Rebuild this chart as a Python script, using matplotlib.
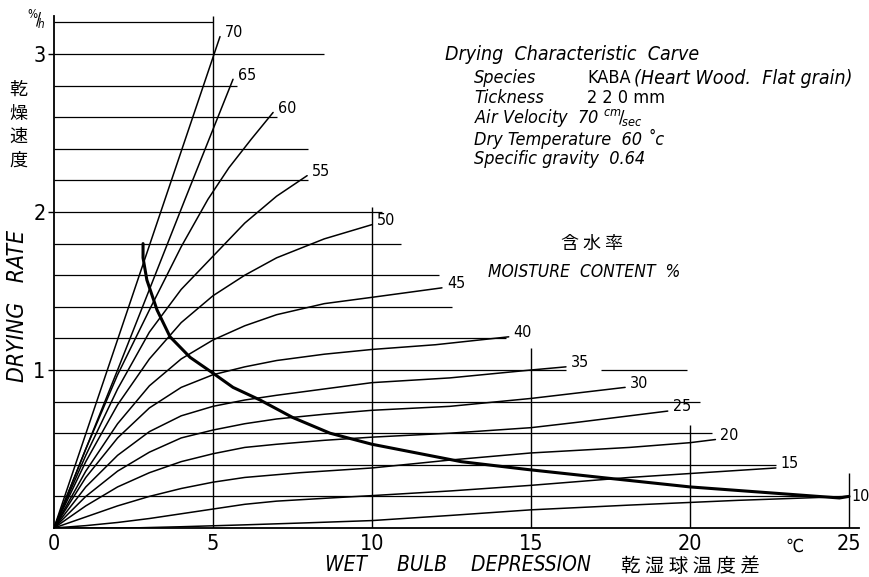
import numpy as np
import matplotlib.pyplot as plt

plt.rcParams['font.family'] = ['DejaVu Sans', 'Noto Sans CJK JP']
plt.rcParams['font.stretch'] = 'condensed'

# drying-rate curves, one per moisture content (%)
mc_labels = [70, 65, 60, 55, 50, 45, 40, 35, 30, 25, 20, 15, 10]
curve_x = [
    [0, 2.6, 5.22],
    [0, 2.0, 4.12, 5.63],
    [0, 1, 2, 3, 4, 4.84, 5.5, 6.2, 6.89],
    [0, 1, 2, 3, 4, 5, 6, 7, 7.96],
    [0, 1, 2, 3, 4, 5, 6, 7, 8.5, 10.0],
    [0, 1, 2, 3, 4, 5, 6, 7, 8.5, 10.0, 12.2],
    [0, 1, 2, 3, 4, 5, 6, 7, 8.5, 10.0, 12.0, 14.3],
    [0, 1, 2, 3, 4, 5, 6, 7, 8.5, 10.0, 12.45, 15.0, 16.1],
    [0, 1, 2, 3, 4, 5, 6, 7, 8.5, 10.0, 12.45, 15.0, 17.96],
    [0, 1, 2, 3, 4, 5, 6, 7, 8.5, 10.0, 12.45, 15.0, 16.5, 18.1, 19.3],
    [0, 1, 2, 3, 4, 5, 6, 7.74, 10.0, 12.45, 15.0, 18.1, 20.0, 20.8],
    [0, 1, 2, 3, 4, 5, 6, 7, 8.68, 10.0, 12.5, 15.0, 18.1, 22.7],
    [0, 2.4, 4, 6, 8, 10.0, 12.5, 15.0, 18.1, 21.5, 25.0],
]
curve_y = [
    [0, 1.55, 3.11],
    [0, 1.0, 2.08, 2.84],
    [0, 0.5, 0.97, 1.38, 1.78, 2.08, 2.28, 2.46, 2.63],
    [0, 0.46, 0.88, 1.24, 1.51, 1.72, 1.93, 2.10, 2.23],
    [0, 0.42, 0.78, 1.07, 1.30, 1.47, 1.60, 1.71, 1.83, 1.92],
    [0, 0.36, 0.66, 0.90, 1.07, 1.19, 1.28, 1.35, 1.42, 1.46, 1.52],
    [0, 0.32, 0.57, 0.76, 0.89, 0.97, 1.02, 1.06, 1.10, 1.13, 1.16, 1.21],
    [0, 0.26, 0.46, 0.61, 0.71, 0.77, 0.81, 0.84, 0.88, 0.92, 0.95, 1.0, 1.02],
    [0, 0.20, 0.36, 0.48, 0.57, 0.62, 0.66, 0.69, 0.72, 0.745, 0.77, 0.82, 0.89],
    [0, 0.14, 0.26, 0.35, 0.42, 0.47, 0.51, 0.53, 0.555, 0.575, 0.60, 0.635, 0.67, 0.71, 0.74],
    [0, 0.07, 0.14, 0.20, 0.25, 0.29, 0.32, 0.35, 0.38, 0.43, 0.475, 0.51, 0.54, 0.56],
    [0, 0.015, 0.035, 0.06, 0.09, 0.12, 0.15, 0.17, 0.19, 0.205, 0.235, 0.27, 0.32, 0.38],
    [0, 0.0, 0.008, 0.02, 0.033, 0.047, 0.08, 0.115, 0.145, 0.175, 0.20],
]

# critical (thick) curve
crit_x = [2.80, 2.80, 2.92, 3.24, 3.65, 4.28, 5.0, 5.63, 6.48, 7.5, 8.68, 10.0, 12.8, 14.9, 17.2, 20.0, 24.7, 25.0]
crit_y = [1.80, 1.71, 1.57, 1.38, 1.21, 1.08, 0.98, 0.89, 0.81, 0.70, 0.60, 0.53, 0.42, 0.37, 0.32, 0.26, 0.19, 0.20]

# ruled lines: horizontal (level, start, end) and vertical (x, top)
grid_y = [0.2, 0.4, 0.6, 0.8, 1.0, 1.0, 1.2, 1.4, 1.6, 1.8, 2.0, 2.2, 2.4, 2.6, 2.8, 3.0, 3.2]
grid_x0 = [0, 0, 0, 0, 0, 17.2, 0, 0, 0, 0, 0, 0, 0, 0, 0, 0, 0]
grid_x1 = [25, 22.7, 20.7, 20.3, 16.1, 19.9, 14.2, 12.5, 12.1, 10.9, 10.3, 8.0, 8.0, 7.0, 5.75, 8.5, 5.0]
vline_x = [5, 10, 15, 20, 25]
vline_top = [3.24, 2.03, 1.14, 0.65, 0.35]

x_ticks = [0, 5, 10, 15, 20, 25]
y_ticks = [1, 2, 3]

notes = [
    ('Species', 'KABA'),
    ('Tickness', '2 2 0 mm'),
]
notes_inline = ['Air Velocity  70 $^{cm}\\!/\\!_{sec}$', 'Dry Temperature  60 ˚c',
                'Specific gravity  0.64']

W, H = 869, 577
fig = plt.figure(figsize=(W / 100, H / 100), dpi=100)
ax = fig.add_axes([54 / W, 49 / H, 25.3 * 31.8 / W, 3.24 * 158 / H])
ax.set_xlim(0, 25.3)
ax.set_ylim(0, 3.24)
for s in ['top', 'right']:
    ax.spines[s].set_visible(False)
for s in ['left', 'bottom']:
    ax.spines[s].set_linewidth(1.3)

ax.hlines(grid_y, grid_x0, grid_x1, color='black', lw=0.9)
ax.vlines(vline_x, 0, vline_top, color='black', lw=1.0)

for mc, xs, ys in zip(mc_labels, curve_x, curve_y):
    ax.plot(xs, ys, color='black', lw=1.1, solid_capstyle='round', solid_joinstyle='round')
    dx = 2 if mc == 10 else 3.5
    ax.annotate(str(mc), (xs[-1], ys[-1]), xytext=(dx, 3 if mc != 10 else 0),
                textcoords='offset points', ha='left', va='center', fontsize=11.5)
ax.plot(crit_x, crit_y, color='black', lw=2.2, solid_capstyle='round', solid_joinstyle='round')

ax.set_xticks(x_ticks)
ax.set_xticklabels([str(v) for v in x_ticks], fontsize=15.5)
ax.tick_params(axis='x', length=0, pad=4)
ax.set_yticks(y_ticks)
ax.set_yticklabels([str(v) for v in y_ticks], fontsize=15.5)
ax.tick_params(axis='y', length=4, width=1, pad=2)

ax.text(23.3, -0.06, '℃', fontsize=13, ha='center', va='top')
ax.text(-0.25, 3.22, r'$^{\%}\!/\!_{h}$', fontsize=12, ha='right', va='center')

# axis titles
fig.text(18 / W, 1 - 306 / H, 'DRYING   RATE', rotation=90, ha='center', va='center',
         fontsize=16.5, style='italic')
for i, ch in enumerate('乾燥速度'):
    fig.text(18 / W, 1 - (90 + 23.5 * i) / H, ch, ha='center', va='center', fontsize=13,
             family=['Noto Sans CJK JP'])
fig.text(325 / W, 1 - 565 / H, 'WET     BULB    DEPRESSION', ha='left', va='center',
         fontsize=15, style='italic')
fig.text(621 / W, 1 - 566 / H, '乾 湿 球 温 度 差', ha='left', va='center', fontsize=14,
         family=['Noto Sans CJK JP'])
fig.text(592 / W, 1 - 244 / H, '含 水 率', ha='center', va='center', fontsize=13,
         family=['Noto Sans CJK JP'])
fig.text(488 / W, 1 - 272 / H, 'MOISTURE  CONTENT  %', ha='left', va='center',
         fontsize=12.5, style='italic')

# specimen notes
fig.text(445 / W, 1 - 55 / H, 'Drying  Characteristic  Carve', ha='left', va='center',
         fontsize=14, style='italic')
for i, (k, v) in enumerate(notes):
    fig.text(474 / W, 1 - (78 + 20 * i) / H, k, ha='left', va='center', fontsize=13,
             style='italic')
    fig.text(587 / W, 1 - (78 + 20 * i) / H, v, ha='left', va='center', fontsize=13)
fig.text(634 / W, 1 - 78 / H, '(Heart Wood.  Flat grain)', ha='left', va='center',
         fontsize=14, style='italic')
for i, t in enumerate(notes_inline):
    fig.text(474 / W, 1 - (118 + 20.5 * i) / H, t, ha='left', va='center', fontsize=13,
             style='italic')

fig.savefig('out.png', dpi=100)
